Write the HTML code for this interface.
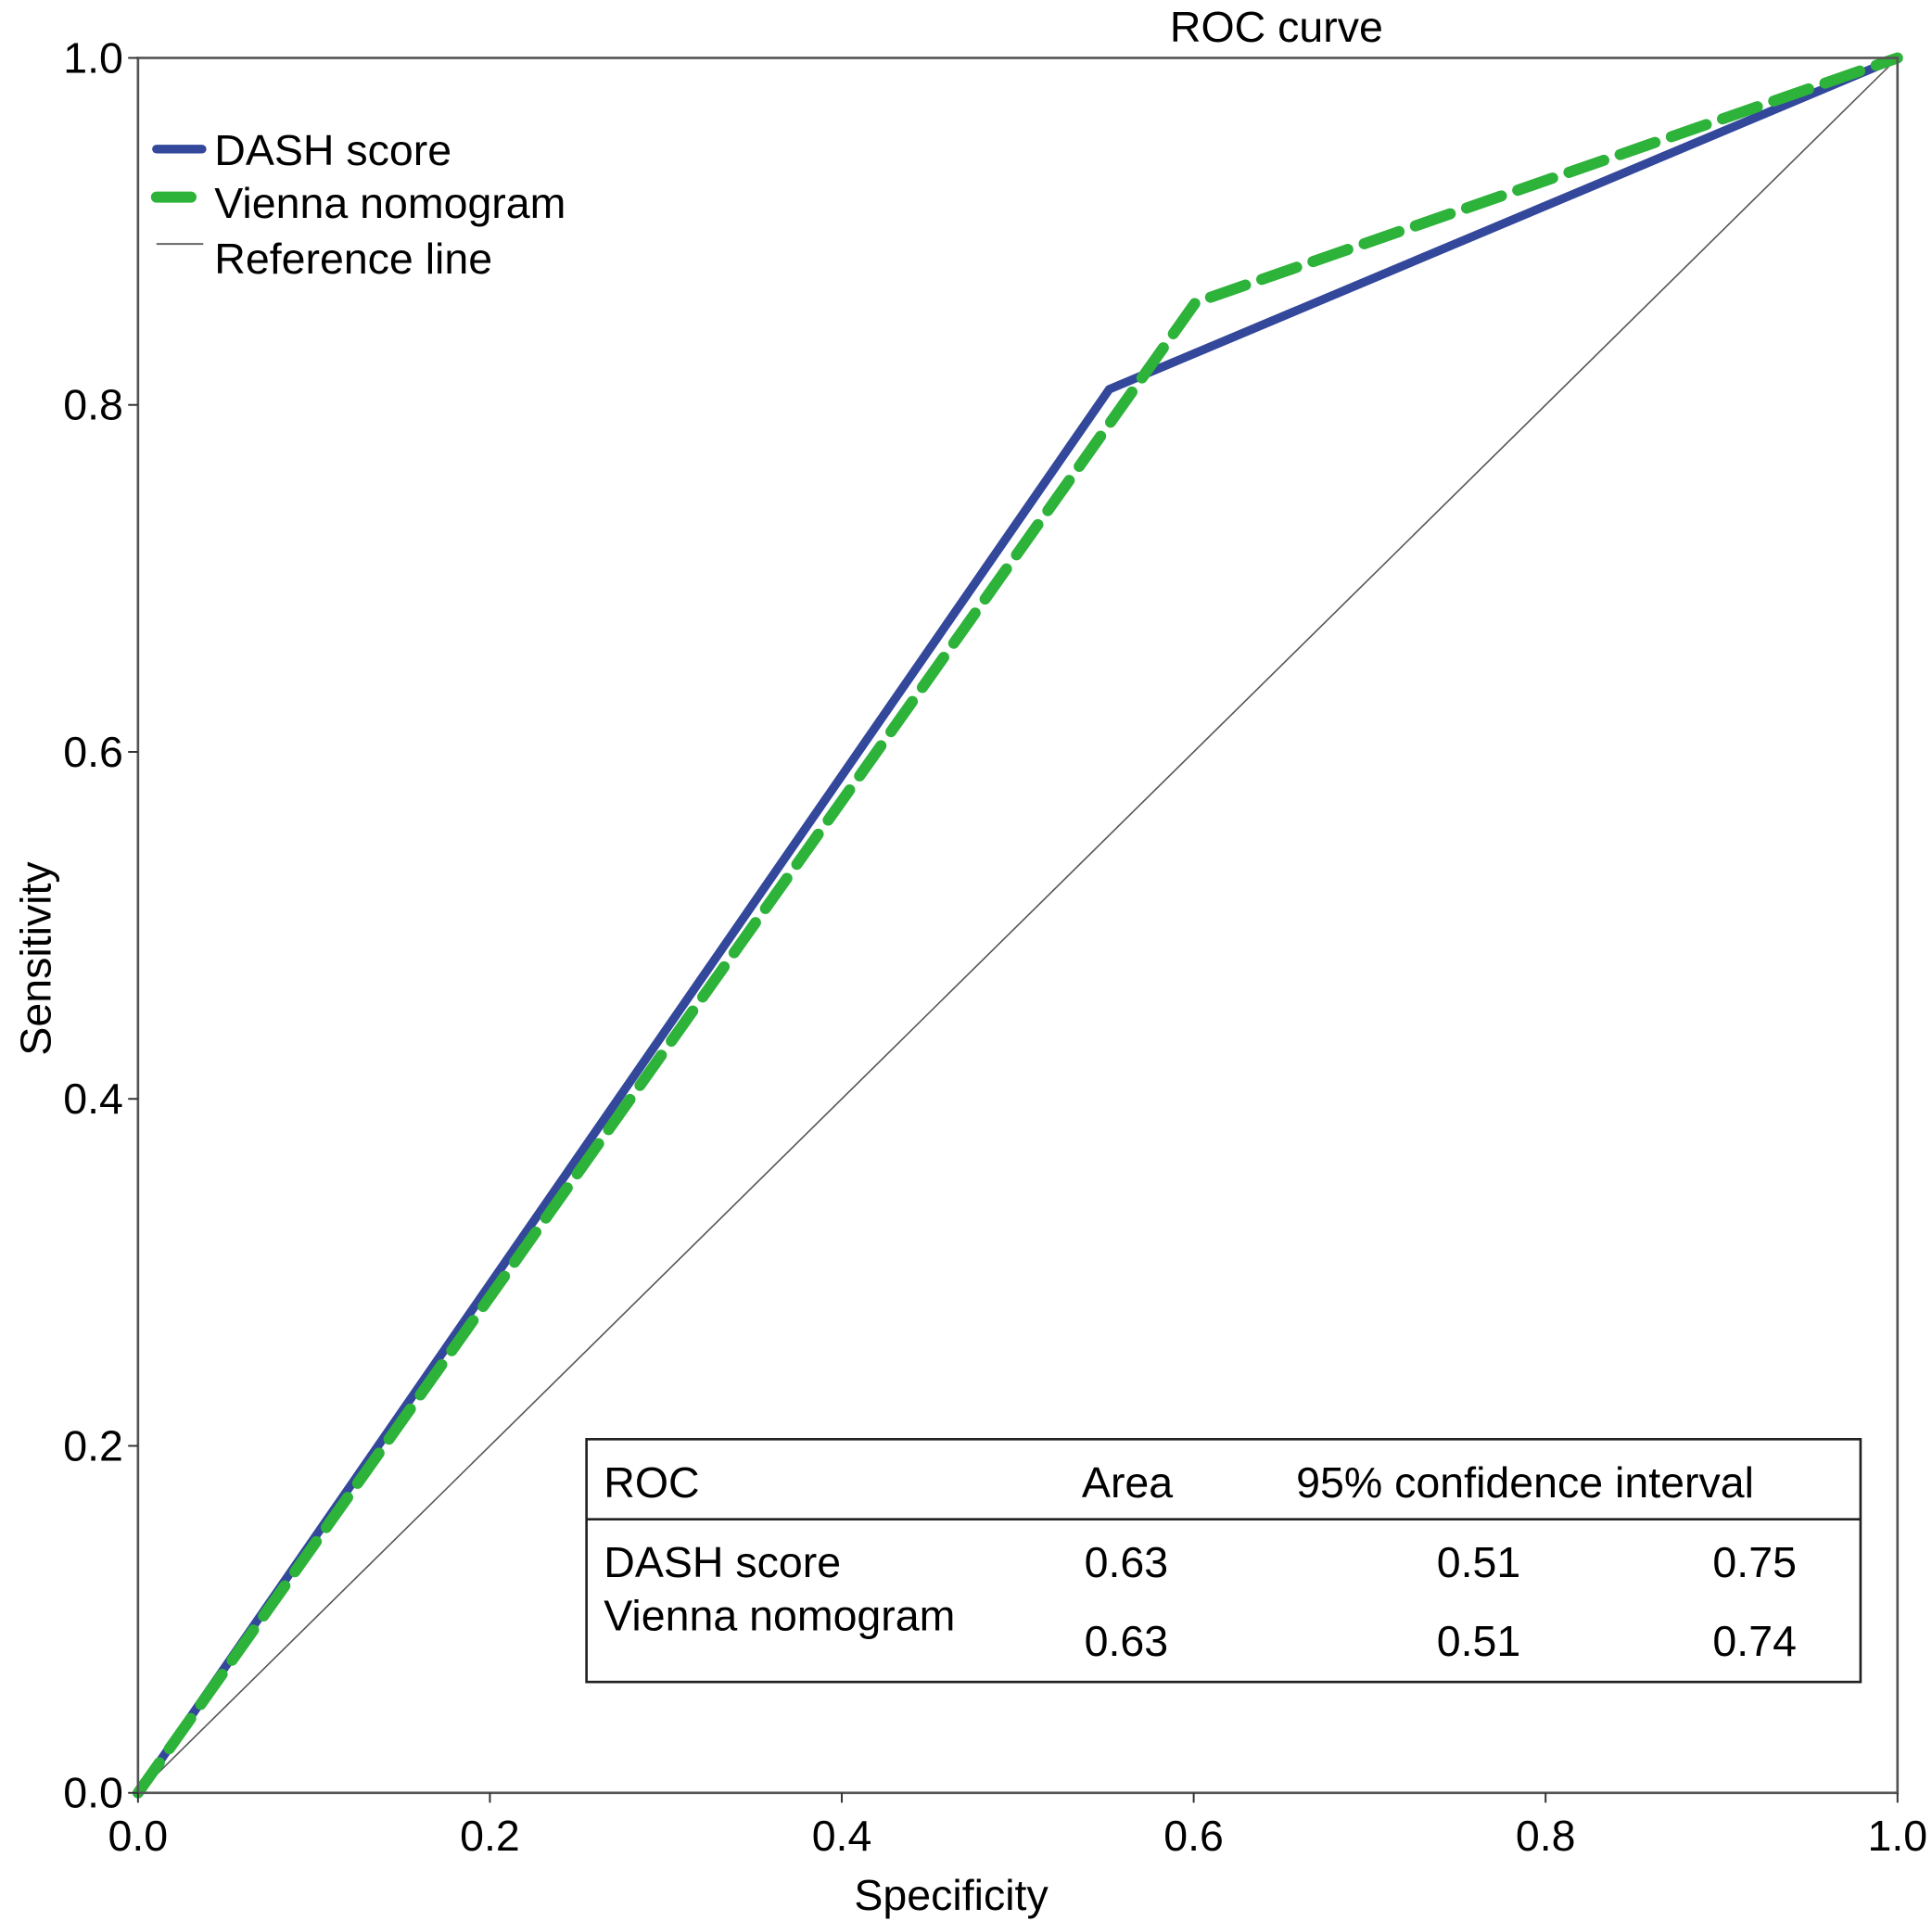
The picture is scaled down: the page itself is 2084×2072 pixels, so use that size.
<!DOCTYPE html>
<html><head><meta charset="utf-8"><style>
html,body{margin:0;padding:0;background:#fff}
svg{display:block}
text{font-family:"Liberation Sans",Arial,sans-serif;fill:#000}
</style></head><body>
<svg id="chart" width="2084" height="2072" viewBox="0 0 1568 1559" preserveAspectRatio="none" xmlns="http://www.w3.org/2000/svg">
<text x="1036" y="34" font-size="35" text-anchor="middle">ROC curve</text>
<g id="plot"></g>
<text x="772" y="1550" font-size="35" text-anchor="middle">Specificity</text>
<text transform="translate(41,778) rotate(-90)" font-size="35" text-anchor="middle">Sensitivity</text>
<g>
<line x1="127" y1="121" x2="164" y2="121" stroke="#33479b" stroke-width="7" stroke-linecap="round"/>
<text x="174" y="134" font-size="35">DASH score</text>
<line x1="127" y1="160" x2="155" y2="160" stroke="#2db23a" stroke-width="9" stroke-linecap="round"/>
<text x="174" y="177" font-size="35">Vienna nomogram</text>
<line x1="127" y1="198" x2="165" y2="198" stroke="#666" stroke-width="1.5"/>
<text x="174" y="222" font-size="35">Reference line</text>
</g>
<g font-size="35">
<rect x="476" y="1168" width="1034" height="197" fill="#fff" stroke="#222" stroke-width="2"/>
<line x1="476" y1="1233" x2="1510" y2="1233" stroke="#222" stroke-width="2"/>
<text x="490" y="1215">ROC</text>
<text x="878" y="1215">Area</text>
<text x="1052" y="1215">95% confidence interval</text>
<text x="490" y="1280">DASH score</text>
<text x="490" y="1323">Vienna nomogram</text>
<text x="880" y="1280">0.63</text><text x="1166" y="1280">0.51</text><text x="1390" y="1280">0.75</text>
<text x="880" y="1344">0.63</text><text x="1166" y="1344">0.51</text><text x="1390" y="1344">0.74</text>
</g>
</svg>
<script>
const xTicks=[0,0.2,0.4,0.6,0.8,1.0];
const yTicks=[0,0.2,0.4,0.6,0.8,1.0];
const dashX=[0,0.552,1];
const dashY=[0,0.809,1];
const viennaX=[0,0.601,1];
const viennaY=[0,0.859,1];
const refX=[0,1];
const refY=[0,1];
const NS="http://www.w3.org/2000/svg";
const X0=112,X1=1540,Y0=1455,Y1=47;
const sx=v=>X0+v*(X1-X0), sy=v=>Y0-v*(Y0-Y1);
const g=document.getElementById('plot');
function mk(t,a){const e=document.createElementNS(NS,t);for(const k in a)e.setAttribute(k,a[k]);g.appendChild(e);return e;}
const pts=(xs,ys)=>xs.map((x,i)=>sx(x)+','+sy(ys[i])).join(' ');
let r=mk('polyline',{'points':pts(refX,refY),'fill':'none','stroke':'#555','stroke-width':1.2});


let d=mk('polyline',{'points':pts(dashX,dashY),'fill':'none','stroke':'#33479b','stroke-width':7,'stroke-linejoin':'round'});


let v=mk('polyline',{'points':pts(viennaX,viennaY),'fill':'none','stroke':'#2db23a','stroke-width':9,'stroke-dasharray':'30 14','stroke-linecap':'round'});


let fr=mk('rect',{'x':X0,'y':Y1,'width':X1-X0,'height':Y0-Y1,'fill':'none','stroke':'#555','stroke-width':2});


xTicks.forEach(val=>{
 let t=mk('line',{'x1':sx(val),'y1':Y0,'x2':sx(val),'y2':Y0+8,'stroke':'#333','stroke-width':1.5});
 
 
 let l=mk('text',{'x':sx(val),'y':Y0+47,'font-size':35,'text-anchor':'middle'});l.textContent=val.toFixed(1);
 
 
});
yTicks.forEach(val=>{
 let t=mk('line',{'x1':X0-8,'y1':sy(val),'x2':X0,'y2':sy(val),'stroke':'#333','stroke-width':1.5});
 
 
 let l=mk('text',{'x':X0-12,'y':sy(val)+12,'font-size':35,'text-anchor':'end'});l.textContent=val.toFixed(1);
 
 
});
</script>
</body></html>
